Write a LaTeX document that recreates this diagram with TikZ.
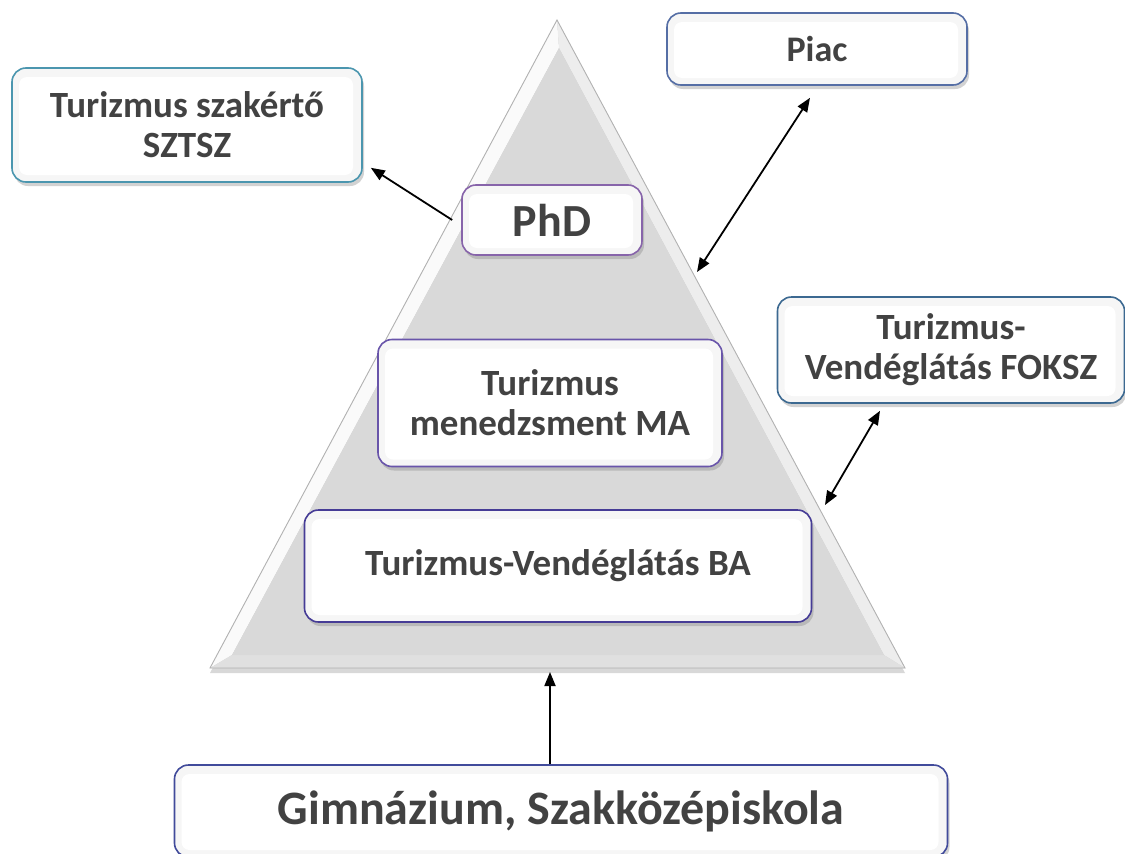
\documentclass[tikz,border=0pt]{standalone}
\usepackage{fontspec}
\setmainfont{Carlito}
\usetikzlibrary{arrows.meta,shadows,calc}
\definecolor{txt}{HTML}{424242}
\definecolor{teal}{RGB}{75,150,175}
\definecolor{piacc}{RGB}{85,110,165}
\definecolor{phdc}{RGB}{135,100,170}
\definecolor{mac}{RGB}{105,85,170}
\definecolor{bac}{RGB}{70,60,150}
\definecolor{fokc}{RGB}{60,105,145}
\definecolor{gimc}{RGB}{65,75,155}
\definecolor{pyr}{HTML}{D9D9D9}
\tikzset{
  box/.style={draw=#1, line width=1.6pt, rounded corners=14pt, fill=gray!7,
    drop shadow={shadow xshift=2pt, shadow yshift=-4pt, opacity=0.35},
    path picture={\fill[white,rounded corners=8pt]
      ([shift={(7pt,7pt)}]path picture bounding box.south west) rectangle
      ([shift={(-9pt,-9pt)}]path picture bounding box.north east);},
    text=txt, align=center, inner sep=0pt},
  arr/.style={line width=1.8pt, -{Triangle[length=14pt,width=11pt]}},
  darr/.style={line width=1.8pt, {Triangle[length=14pt,width=11pt]}-{Triangle[length=14pt,width=11pt]}},
  fs/.style 2 args={font=\fontsize{#1}{#2}\selectfont\bfseries}
}
\begin{document}
\begin{tikzpicture}[x=1pt,y=-1pt]
\clip (0,0) rectangle (1125,854);
\fill[white] (0,0) rectangle (1125,854);

% pyramid: outer bevel and inner face
\coordinate (apex) at (557,20);
\coordinate (bR) at (905,668);
\coordinate (bL) at (210,668);
\coordinate (iapex) at (559,48);
\coordinate (iR) at (884,655);
\coordinate (iL) at (232,655);
\fill[gray!40, drop shadow={shadow xshift=0pt, shadow yshift=-5pt, opacity=0.3}]
  (apex) -- (bR) -- (bL) -- cycle;
\fill[gray!4] (apex) -- (iapex) -- (iL) -- (bL) -- cycle;
\fill[gray!14] (apex) -- (bR) -- (iR) -- (iapex) -- cycle;
\fill[gray!24] (bL) -- (iL) -- (iR) -- (bR) -- cycle;
\fill[pyr] (iapex) -- (iR) -- (iL) -- cycle;
\draw[gray!60, line width=0.9pt] (apex) -- (bR) -- (bL) -- cycle;

% boxes
\node[box=teal, minimum width=350, minimum height=114, fs={37}{40}] (szak) at (187,125)
  {Turizmus szakértő\\SZTSZ};
\node[box=piacc, minimum width=300, minimum height=72, fs={36}{40}] (piac) at (817,49) {Piac};
\node[box=phdc, minimum width=180, minimum height=70, fs={46}{50}] (phd) at (552,220) {PhD};
\node[box=mac, minimum width=344, minimum height=127, fs={37}{40}] (ma) at (550,403)
  {Turizmus\\menedzsment MA};
\node[box=bac, minimum width=507, minimum height=112, fs={37}{40}] (ba) at (558,566)
  {Turizmus-Vendéglátás BA};
\node[box=fokc, minimum width=347, minimum height=106, fs={37}{40}] (foksz) at (951,350)
  {Turizmus-\\Vendéglátás FOKSZ};
\node[box=gimc, minimum width=773, minimum height=92, fs={48}{52}] (gim) at (561,811)
  {Gimnázium, Szakközépiskola};

% connectors
\coordinate (piacTip) at (697,272);
\coordinate (fokTip) at (825,505);
\coordinate (baseTip) at (550,672);
\draw[arr] ([xshift=-9pt]phd.west) -- ([xshift=8pt,yshift=15pt]szak.south east);
\draw[darr] ([xshift=-7pt,yshift=-12pt]piac.south) -- (piacTip);
\draw[darr] ([xshift=-71pt,yshift=-7pt]foksz.south) -- (fokTip);
\draw[arr] ([xshift=-11pt]gim.north) -- (baseTip);
\end{tikzpicture}
\end{document}
